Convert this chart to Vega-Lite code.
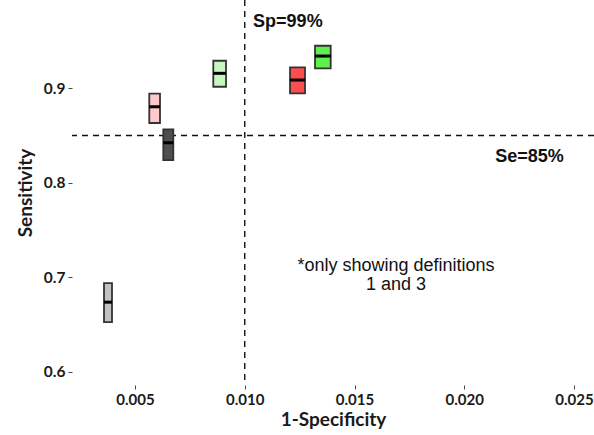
{
  "$schema": "https://vega.github.io/schema/vega-lite/v6.json",
  "width": 522,
  "height": 385,
  "autosize": {"type": "none"},
  "padding": {"left": 72, "top": 0, "right": 0, "bottom": 50},
  "background": "white",
  "config": {"view": {"stroke": null}},
  "datasets": {
    "boxes": [
      {"id": "a", "x1": 0.003588, "x2": 0.003952, "lo": 0.6524, "hi": 0.6937, "med": 0.6736, "col": "#c2c2c2"},
      {"id": "b", "x1": 0.005651, "x2": 0.006139, "lo": 0.8633, "hi": 0.8944, "med": 0.8805, "col": "#ffc9cc"},
      {"id": "c", "x1": 0.006290, "x2": 0.006745, "lo": 0.8240, "hi": 0.8566, "med": 0.8424, "col": "#4f4f4f"},
      {"id": "d", "x1": 0.008567, "x2": 0.009146, "lo": 0.9017, "hi": 0.9292, "med": 0.9159, "col": "#c8f5c2"},
      {"id": "e", "x1": 0.012062, "x2": 0.012745, "lo": 0.8947, "hi": 0.9222, "med": 0.9088, "col": "#ff4c4f"},
      {"id": "f", "x1": 0.013200, "x2": 0.013915, "lo": 0.9212, "hi": 0.9451, "med": 0.9342, "col": "#5ef04c"}
    ],
    "refx": [{"v": 0.01}],
    "refy": [{"v": 0.85}],
    "labels": [
      {"x": 0.01038, "y": 0.9702, "t": "Sp=99%"},
      {"x": 0.02141, "y": 0.8277, "t": "Se=85%"}
    ],
    "notes": [
      {"x": 0.01689, "y": 0.7117, "t": "*only showing definitions"},
      {"x": 0.01689, "y": 0.6916, "t": "1 and 3"}
    ]
  },
  "layer": [
    {
      "data": {"name": "refx"},
      "mark": {"type": "rule", "strokeDash": [6, 5], "strokeWidth": 1.4, "color": "#111"},
      "encoding": {"x": {"field": "v", "type": "quantitative", "scale": {"domain": [0.00213, 0.02591], "nice": false, "zero": false}, "axis": {"values": [0.005, 0.01, 0.015, 0.02, 0.025], "format": ".3f", "title": "1-Specificity", "domain": false, "grid": false, "tickSize": 4, "tickColor": "#444", "labelFont": "Lato", "labelFontWeight": "bold", "labelFontSize": 15, "labelColor": "#1a1a1a", "labelPadding": 3, "titleFont": "Lato", "titleFontWeight": "bold", "titleFontSize": 19, "titleColor": "#1a1a1a", "titlePadding": 3}}}
    },
    {
      "data": {"name": "refy"},
      "mark": {"type": "rule", "strokeDash": [6, 5], "strokeWidth": 1.4, "color": "#111"},
      "encoding": {"y": {"field": "v", "type": "quantitative", "scale": {"domain": [0.5859, 0.99354], "nice": false, "zero": false}, "axis": {"values": [0.6, 0.7, 0.8, 0.9], "format": ".1f", "title": "Sensitivity", "domain": false, "grid": false, "tickSize": 4, "tickColor": "#444", "labelFont": "Lato", "labelFontWeight": "bold", "labelFontSize": 15.5, "labelColor": "#1a1a1a", "labelPadding": 3, "titleFont": "Lato", "titleFontWeight": "bold", "titleFontSize": 19, "titleColor": "#1a1a1a", "titlePadding": 8}}}
    },
    {
      "data": {"name": "boxes"},
      "mark": {"type": "rect", "stroke": "#333", "strokeWidth": 1.8},
      "encoding": {
        "x": {"field": "x1", "type": "quantitative"},
        "x2": {"field": "x2"},
        "y": {"field": "lo", "type": "quantitative"},
        "y2": {"field": "hi"},
        "fill": {"field": "col", "type": "nominal", "scale": null}
      }
    },
    {
      "data": {"name": "boxes"},
      "mark": {"type": "rule", "strokeWidth": 3, "color": "#000"},
      "encoding": {
        "x": {"field": "x1", "type": "quantitative"},
        "x2": {"field": "x2"},
        "y": {"field": "med", "type": "quantitative"}
      }
    },
    {
      "data": {"name": "labels"},
      "mark": {"type": "text", "align": "left", "baseline": "middle", "font": "Liberation Sans", "fontWeight": "bold", "fontSize": 18, "color": "#111"},
      "encoding": {
        "x": {"field": "x", "type": "quantitative"},
        "y": {"field": "y", "type": "quantitative"},
        "text": {"field": "t"}
      }
    },
    {
      "data": {"name": "notes"},
      "mark": {"type": "text", "align": "center", "baseline": "middle", "font": "Liberation Sans", "fontSize": 18, "color": "#111"},
      "encoding": {
        "x": {"field": "x", "type": "quantitative"},
        "y": {"field": "y", "type": "quantitative"},
        "text": {"field": "t"}
      }
    }
  ]
}
